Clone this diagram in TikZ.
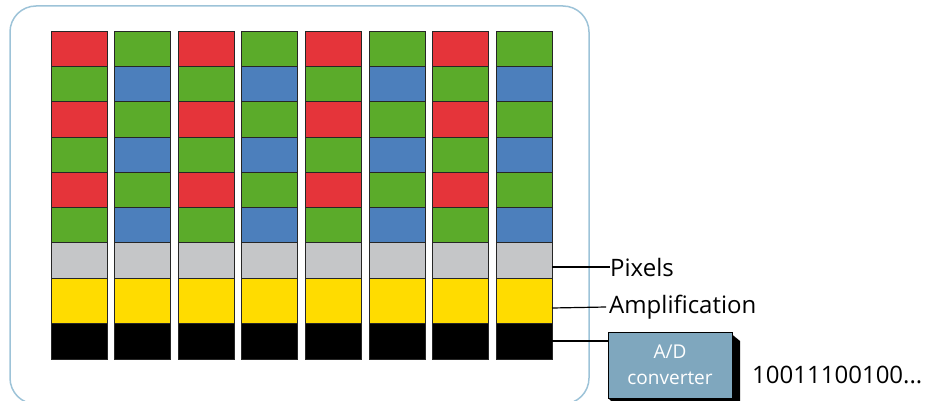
\documentclass[tikz,border=0pt]{standalone}
\usepackage{fontspec}
\setmainfont{Open Sans}
\definecolor{cred}{HTML}{E5343A}
\definecolor{cgreen}{HTML}{5BAB2A}
\definecolor{cblue}{HTML}{4C7FBC}
\definecolor{cgray}{HTML}{C5C6C8}
\definecolor{cyellow}{HTML}{FFDC00}
\definecolor{cbox}{HTML}{7FA7BE}
\definecolor{cframe}{HTML}{9DC3D8}
\tikzset{
  cell/.style={draw=black!85, line width=1pt},
  lbl/.style={anchor=west, inner sep=0pt, font=\fontsize{24}{27}\selectfont},
  conn/.style={draw=black, line width=1.2pt},
}
\begin{document}
\begin{tikzpicture}[x=1pt,y=-1pt]
\useasboundingbox (0,0) rectangle (928,401);
% outer frame
\draw[cframe, line width=1.5pt, rounded corners=26pt] (10,6) rectangle (589,404);
% columns
\foreach \i in {0,...,7}{
  \pgfmathsetmacro{\xl}{51+63.6*\i}
  \pgfmathsetmacro{\xr}{\xl+56}
  \pgfmathtruncatemacro{\odd}{mod(\i,2)}
  \foreach \r in {0,...,5}{
    \pgfmathsetmacro{\yt}{32+35*\r}
    \pgfmathsetmacro{\yb}{\yt+35}
    \pgfmathtruncatemacro{\rm}{mod(\r,2)}
    \ifnum\odd=0
      \ifnum\rm=0 \def\cc{cred}\else\def\cc{cgreen}\fi
    \else
      \ifnum\rm=0 \def\cc{cgreen}\else\def\cc{cblue}\fi
    \fi
    \draw[cell, fill=\cc] (\xl,\yt) rectangle (\xr,\yb);
  }
  \draw[cell, fill=cgray] (\xl,242) rectangle (\xr,278);
  \draw[cell, fill=cyellow] (\xl,278) rectangle (\xr,323);
  \draw[cell, fill=black] (\xl,323) rectangle (\xr,359);
}
\coordinate (pix) at (552,267);
\coordinate (amp) at (552,308);
\coordinate (adin) at (552,341);
% labels
\node[lbl] (tpix) at (610,267) {Pixels};
\node[lbl] (tamp) at (609,307) {Amplification};
% A/D converter box with 3D edge
\fill[black] (729,332) -- (740,341) -- (740,401) -- (611,401) -- (608,398) -- (733,398) -- cycle;
\node[draw=black, line width=0.8pt, fill=cbox, minimum width=124pt, minimum height=66pt, inner sep=0pt,
  align=center, text=white, font=\fontsize{19}{26}\selectfont] (adc) at (670,365) {A/D\\converter};
\node[lbl] (bits) at (752,375) {10011100100...};
\draw[conn] (pix) -- (tpix.west);
\draw[conn] (amp) -- ([xshift=-3pt]tamp.west);
\draw[conn] (adin) -- (adc.west |- adin);
\end{tikzpicture}
\end{document}
